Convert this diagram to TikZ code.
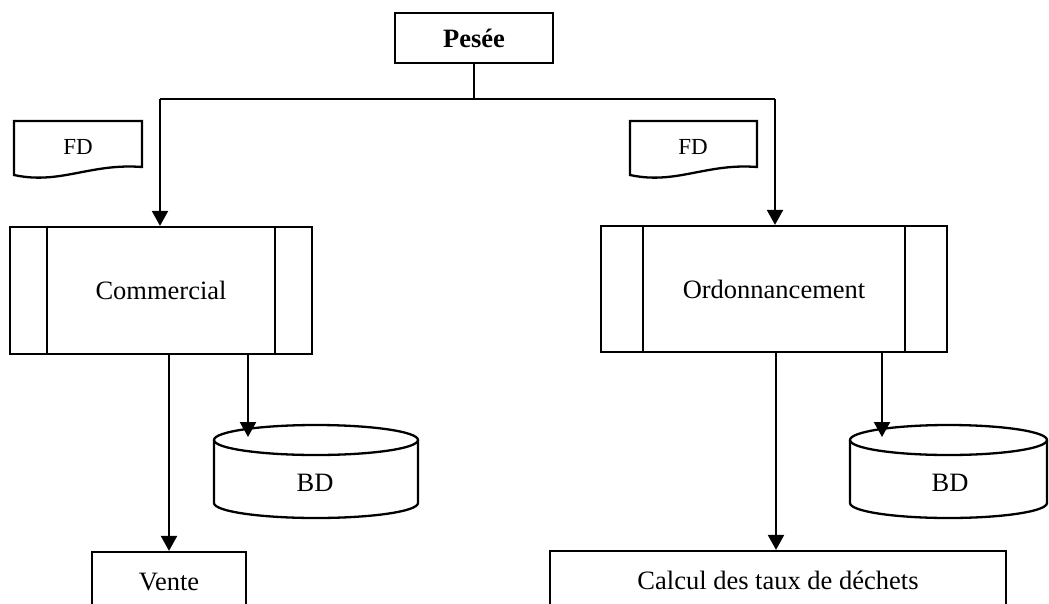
\documentclass[tikz,border=0pt]{standalone}
\usepackage{fontspec}
\setmainfont{Liberation Serif}
\usetikzlibrary{arrows.meta}

\tikzset{
  line/.style={line width=2.3pt},
  box/.style={draw, line width=2.3pt, rectangle, inner sep=0pt,
              font=\fontsize{26.5}{30}\selectfont},
  lbl/.style={inner sep=0pt, font=\fontsize{26.5}{30}\selectfont},
  fdlbl/.style={inner sep=0pt, font=\fontsize{23}{26}\selectfont},
  flow/.style={line width=2.3pt, -{Triangle[width=16pt,length=15pt]}}
}

\begin{document}
\begin{tikzpicture}[x=1pt, y=-1pt]
  \useasboundingbox (0,0) rectangle (1049,603);
  \clip (0,0) rectangle (1049,603);

  % top process
  \node[box, minimum width=158pt, minimum height=50pt, font=\fontsize{26.5}{30}\selectfont\bfseries]
    (pesee) at (474,38) {Pesée};

  % distribution bar
  \coordinate (jl) at (160,99);
  \coordinate (jr) at (775,99);
  \draw[line] (pesee.south) -- (pesee.south |- jl);
  \draw[line] (jl) -- (jr);

  % predefined processes
  \node[box, minimum width=302pt, minimum height=127pt] (comm) at (161,290.5) {Commercial};
  \draw[line] ([xshift=38pt]comm.north west) -- ([xshift=38pt]comm.south west);
  \draw[line] ([xshift=-38pt]comm.north east) -- ([xshift=-38pt]comm.south east);

  \node[box, minimum width=346pt, minimum height=126pt] (ordo) at (774,289) {Ordonnancement};
  \draw[line] ([xshift=43pt]ordo.north west) -- ([xshift=43pt]ordo.south west);
  \draw[line] ([xshift=-43pt]ordo.north east) -- ([xshift=-43pt]ordo.south east);

  \draw[flow] (jl) -- (jl |- comm.north);
  \draw[flow] (jr) -- (jr |- ordo.north);

  % documents
  \draw[line] (142,167) -- (142,121) -- (14,121) -- (14,175)
    .. controls (60,185) and (90,163) .. cycle;
  \node[fdlbl] (fdl) at (78,147) {FD};
  \draw[line] (757,167) -- (757,121) -- (630,121) -- (630,175)
    .. controls (676,185) and (706,163) .. cycle;
  \node[fdlbl] (fdr) at (693,147) {FD};

  % databases
  \draw[line] (214,440) -- (214,503) arc[start angle=180, end angle=360, x radius=102, y radius=-15]
    -- (418,440);
  \draw[line] (316,440) ellipse[x radius=102, y radius=15];
  \node[lbl] (bdl) at (315,483) {BD};

  \draw[line] (850,440) -- (850,503) arc[start angle=180, end angle=360, x radius=98.5, y radius=-15]
    -- (1047,440);
  \draw[line] (948.5,440) ellipse[x radius=98.5, y radius=15];
  \node[lbl] (bdr) at (950,483) {BD};

  \coordinate (bdltop) at (248,437);
  \coordinate (bdrtop) at (882,437);
  \draw[flow] (comm.south -| bdltop) -- (bdltop);
  \draw[flow] (ordo.south -| bdrtop) -- (bdrtop);

  % final processes
  \node[box, minimum width=154pt, minimum height=60pt] (vente) at (169,582) {Vente};
  \node[box, minimum width=456pt, minimum height=58pt] (calc) at (778,580) {Calcul des taux de déchets};

  \draw[flow] (comm.south -| vente.north) -- (vente.north);
  \draw[flow] (ordo.south -| 776,0) -- (776,0 |- calc.north);
\end{tikzpicture}
\end{document}
